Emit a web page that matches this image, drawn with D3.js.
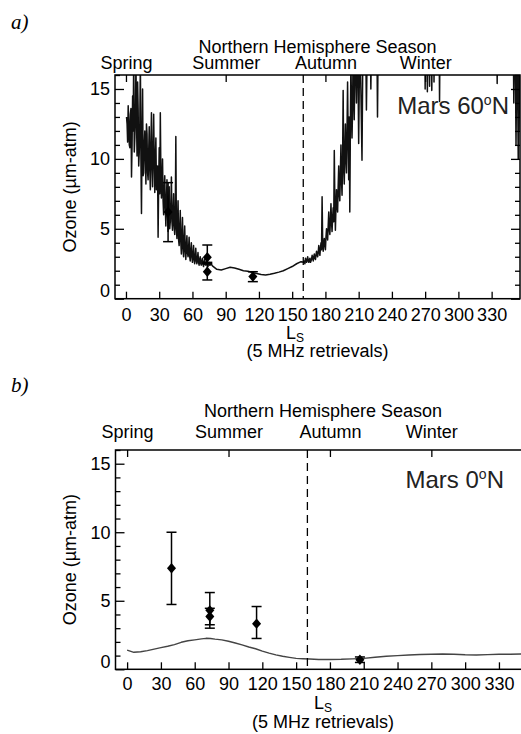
<!DOCTYPE html>
<html>
<head>
<meta charset="utf-8">
<script src="https://cdn.jsdelivr.net/npm/d3@7"></script>
<style>
  body { margin: 0; background: #fff; }
  svg { display: block; font-family: "Liberation Sans", Arial, sans-serif; }
</style>
</head>
<body>
<svg id="chart" width="521" height="734"></svg>
<script>
// season labels sit on the top axis
const seasons = ["Spring", "Summer", "Autumn", "Winter"];
const seasonLs = [0, 90, 180, 270];
const xTicks = [0, 30, 60, 90, 120, 150, 180, 210, 240, 270, 300, 330];
const yMajor = [0, 5, 10, 15];
const yMinor = [1, 2, 3, 4, 6, 7, 8, 9, 11, 12, 13, 14, 16];
const equinoxLs = 160;

// 60N model ozone [Ls, um-atm]; values > 16 run off the top of the frame
const ozone60N = [
  [1, 12.5], [2, 13.8], [3, 11.0], [4, 13.2], [5, 8.7], [6, 14.5], [7, 17.5], [8, 11.5],
  [9, 16.8], [10, 10.2], [11, 13.5], [12, 10.5], [13, 17.0], [14, 6.1], [15, 15.0], [16, 9.0],
  [17, 12.0], [18, 8.2], [19, 11.8], [20, 8.5], [21, 12.3], [22, 7.8], [23, 13.3], [24, 8.0],
  [25, 13.2], [26, 7.6], [27, 11.5], [28, 8.4], [29, 4.4], [30, 10.8], [31, 13.3], [32, 7.2],
  [33, 10.0], [34, 6.0], [35, 8.8], [36, 5.2], [37, 8.5], [38, 4.8], [39, 8.0], [40, 5.5],
  [41, 8.7], [42, 4.9], [43, 7.5], [44, 4.6], [45, 11.6], [46, 4.3], [47, 7.0], [48, 3.8],
  [49, 6.3], [50, 3.2], [51, 5.8], [52, 3.0], [53, 5.2], [54, 2.8], [55, 4.5], [56, 3.0],
  [57, 4.4], [58, 2.7], [59, 4.0], [60, 2.6], [61, 3.8], [62, 2.5], [63, 3.6], [64, 2.5],
  [65, 3.3], [66, 2.4], [67, 3.0], [68, 2.4], [69, 2.9], [70, 2.3], [71, 2.8], [72, 2.4],
  [73, 2.7], [74, 2.3], [75, 2.6], [76, 2.4], [77, 2.5], [78, 2.35],
  [82, 2.1], [86, 2.05], [90, 2.15], [94, 2.25], [98, 2.2], [102, 2.1], [106, 2.0], [110, 1.97],
  [114, 1.88], [118, 1.8], [122, 1.73], [126, 1.7], [130, 1.75], [134, 1.82], [138, 1.9],
  [142, 2.0], [146, 2.15], [150, 2.3], [154, 2.5], [158, 2.65],
  [161, 2.7], [162, 2.9], [163, 2.6], [164, 3.0], [165, 2.6], [166, 2.9], [167, 2.7], [168, 3.1],
  [169, 2.7], [170, 3.2], [171, 2.8], [172, 3.4], [173, 3.0], [174, 3.8], [175, 3.1], [176, 4.0],
  [177, 7.3], [178, 3.4], [179, 4.3], [180, 3.5], [181, 5.0], [182, 4.2], [183, 6.2], [184, 4.6],
  [185, 6.8], [186, 4.8], [187, 6.5], [188, 10.6], [189, 4.9], [190, 7.8], [191, 6.2], [192, 9.5],
  [193, 7.0], [194, 11.0], [195, 7.4], [196, 14.9], [197, 8.2], [198, 12.5], [199, 9.0], [200, 15.5],
  [201, 8.5], [202, 6.2], [203, 17.0], [204, 11.5], [205, 18.0], [206, 12.8], [207, 19.0], [208, 14.0],
  [209, 20.0], [210, 11.1], [211, 19.0], [212, 15.0], [213, 9.9], [214, 20.0], [215, 16.5], [216, 21.0],
  [217, 13.5], [218, 20.0], [219, 17.0], [220, 22.0], [221, 15.0], [222, 21.0], [223, 18.0], [224, 22.0],
  [225, 17.5], [226, 23.0], [227, 13.0], [228, 22.0], [229, 20.0], [230, 24.0],
  [240, 25.0], [250, 26.0], [260, 27.0], [269, 26.0], [270, 15.0], [271, 24.0], [272, 14.8],
  [273, 23.0], [274, 15.2], [275, 24.0], [276, 14.9], [277, 25.0], [278, 15.5], [279, 24.0],
  [282, 25.0], [283, 14.1], [284, 25.0], [300, 27.0], [320, 26.0], [334, 25.0], [335, 15.4],
  [336, 25.0], [348, 26.0], [349, 24.0], [350, 14.0], [351, 22.0], [352, 11.0], [353, 20.0],
  [354, 10.0], [355, 18.0], [356, 12.0]
];

// in-between samples of the noisy stretches (the dense black core)
const ozone60NHalf = [
  [0.5, 13.0], [1.5, 11.2], [2.5, 12.8], [3.5, 10.8], [4.5, 13.6], [5.5, 11.0], [6.5, 12.0], [7.5, 10.5],
  [8.5, 13.0], [9.5, 12.8], [10.5, 15.5], [11.5, 9.5], [12.5, 12.5], [13.5, 10.0], [14.5, 11.5], [15.5, 8.8],
  [16.5, 11.0], [17.5, 10.2], [18.5, 12.5], [19.5, 9.0], [20.5, 10.5], [21.5, 9.2], [22.5, 11.0], [23.5, 9.5],
  [24.5, 10.5], [25.5, 9.8], [26.5, 10.0], [27.5, 7.8], [28.5, 9.5], [29.5, 8.2], [30.5, 7.5], [31.5, 9.0],
  [32.5, 8.5], [33.5, 7.0], [34.5, 7.8], [35.5, 6.5], [36.5, 7.0], [37.5, 6.0], [38.5, 6.8], [39.5, 5.0],
  [40.5, 6.5], [41.5, 5.5], [42.5, 6.2], [43.5, 5.2], [44.5, 5.8], [45.5, 5.0], [46.5, 5.5], [47.5, 4.2],
  [48.5, 5.0], [49.5, 4.0], [50.5, 4.6], [51.5, 3.6], [52.5, 4.2], [53.5, 3.4], [54.5, 3.8], [55.5, 3.3],
  [56.5, 3.6], [57.5, 3.0], [58.5, 3.4], [59.5, 3.0], [60.5, 3.2], [61.5, 2.8], [62.5, 3.0], [63.5, 2.7],
  [64.5, 2.9], [65.5, 2.6], [66.5, 2.8], [67.5, 2.5], [68.5, 2.7], [69.5, 2.5], [70.5, 2.6], [71.5, 2.45],
  [72.5, 2.55], [73.5, 2.4], [74.5, 2.5], [75.5, 2.4], [76.5, 2.45], [77.5, 2.4],
  [160.5, 2.6], [161.5, 2.5], [162.5, 2.75], [163.5, 2.8], [164.5, 2.7], [165.5, 2.8], [166.5, 2.6],
  [167.5, 2.85], [168.5, 2.9], [169.5, 3.0], [170.5, 2.9], [171.5, 3.1], [172.5, 3.2], [173.5, 3.3],
  [174.5, 3.4], [175.5, 3.6], [176.5, 3.5], [177.5, 4.2], [178.5, 3.9], [179.5, 3.9], [180.5, 4.4],
  [181.5, 4.6], [182.5, 5.2], [183.5, 5.0], [184.5, 5.6], [185.5, 5.5], [186.5, 5.8], [187.5, 5.5],
  [188.5, 7.0], [189.5, 6.5], [190.5, 6.8], [191.5, 8.0], [192.5, 7.5], [193.5, 9.0], [194.5, 8.5],
  [195.5, 9.8], [196.5, 9.5], [197.5, 10.5], [198.5, 10.0], [199.5, 12.0], [200.5, 11.5], [201.5, 13.0],
  [202.5, 12.0], [203.5, 14.0], [204.5, 13.5]
];

// 0N model ozone [Ls, um-atm]
const ozone0N = [
  [0, 1.4], [6, 1.24], [12, 1.28], [18, 1.36], [24, 1.47], [30, 1.58], [36, 1.68], [42, 1.8],
  [48, 1.97], [54, 2.08], [60, 2.15], [66, 2.22], [70, 2.26], [74, 2.25], [78, 2.2], [84, 2.15],
  [90, 2.05], [96, 1.92], [102, 1.78], [108, 1.63], [114, 1.5], [120, 1.33], [126, 1.18], [132, 1.05],
  [138, 0.95], [144, 0.87], [150, 0.8], [156, 0.77], [162, 0.75], [170, 0.72], [180, 0.72], [190, 0.73],
  [200, 0.76], [210, 0.8], [220, 0.88], [230, 0.95], [240, 1.0], [250, 1.04], [260, 1.08], [270, 1.1],
  [280, 1.12], [290, 1.1], [300, 1.06], [310, 1.04], [320, 1.07], [330, 1.1], [340, 1.1], [350, 1.12],
  [358, 1.12]
];

// 5 MHz retrievals: Ls, value, low, high
const obs60N = [
  [38, 6.2, 4.08, 8.3],
  [73.4, 2.96, 2.5, 3.84],
  [73.4, 1.93, 1.34, 2.6],
  [114.5, 1.58, 1.22, 1.93]
];
const obs0N = [
  [39.4, 7.37, 4.73, 10.0],
  [73.4, 4.3, 3.0, 5.6],
  [73.4, 3.85, 3.25, 4.45],
  [114.9, 3.33, 2.25, 4.58],
  [206.6, 0.7, 0.5, 0.9]
];

var svg = d3.select("#chart");

function drawPanel(p) {
  var x = d3.scaleLinear().domain(p.xDomain).range([p.left, p.right]);
  var y = d3.scaleLinear().domain([0, 16]).range([p.bottom, p.top]);
  var g = svg.append("g");

  g.append("clipPath").attr("id", "clip-" + p.id)
    .append("rect")
    .attr("x", p.left).attr("y", p.top)
    .attr("width", p.right - p.left).attr("height", p.bottom - p.top);

  // model line
  var line = d3.line().x(d => x(d[0])).y(d => y(d[1]));
  g.append("path")
    .datum(d3.sort(p.model, d => d[0]))
    .attr("clip-path", "url(#clip-" + p.id + ")")
    .attr("d", line)
    .attr("fill", "none")
    .attr("stroke", p.lineColor)
    .attr("stroke-width", p.lineWidth)
    .attr("stroke-linejoin", "round");

  // equinox marker
  g.append("line")
    .attr("x1", x(equinoxLs)).attr("x2", x(equinoxLs))
    .attr("y1", p.top).attr("y2", p.bottom)
    .attr("stroke", "#000").attr("stroke-width", 1.3)
    .attr("stroke-dasharray", "8,5");

  // error bars + diamonds
  var obs = g.append("g").attr("stroke", "#000").attr("stroke-width", 1.5);
  p.obs.forEach(function(d) {
    var cx = x(d[0]);
    obs.append("line").attr("x1", cx).attr("x2", cx).attr("y1", y(d[2])).attr("y2", y(d[3]));
    obs.append("line").attr("x1", cx - 5).attr("x2", cx + 5).attr("y1", y(d[2])).attr("y2", y(d[2]));
    obs.append("line").attr("x1", cx - 5).attr("x2", cx + 5).attr("y1", y(d[3])).attr("y2", y(d[3]));
  });
  g.selectAll(".pt")
    .data(p.obs)
    .enter()
    .append("path")
    .attr("d", d3.symbol(d3.symbolDiamond2, 52))
    .attr("transform", d => `translate(${x(d[0])},${y(d[1])}) scale(1,1.15)`)
    .attr("fill", "#000");

  // axes
  g.append("g")
    .attr("transform", `translate(0,${p.bottom})`)
    .call(d3.axisBottom(x).tickValues(xTicks).tickSize(-7).tickPadding(p.xPad));
  g.append("g")
    .attr("transform", `translate(0,${p.top})`)
    .call(d3.axisTop(x).tickValues(seasonLs).tickSize(-7).tickPadding(p.sPad)
      .tickFormat((d, i) => seasons[i]));
  var left = g.append("g")
    .attr("transform", `translate(${p.left},0)`)
    .call(d3.axisLeft(y).tickValues(yMajor).tickSize(-9).tickPadding(5));
  left.selectAll("text").filter(d => d === 0).attr("dy", "-0.1em");
  g.append("g")
    .attr("transform", `translate(${p.left},0)`)
    .call(d3.axisLeft(y).tickValues(yMinor).tickSize(-5).tickFormat(""));
  if (p.rightAxis) {
    g.append("g")
      .attr("transform", `translate(${p.right},0)`)
      .call(d3.axisRight(y).tickValues(yMajor).tickSize(-9).tickFormat(""));
    g.append("g")
      .attr("transform", `translate(${p.right},0)`)
      .call(d3.axisRight(y).tickValues(yMinor).tickSize(-5).tickFormat(""));
  }
  g.selectAll(".domain").remove();
  g.selectAll(".tick line").attr("stroke", "#000").attr("stroke-width", 1.3);
  g.selectAll(".tick text").attr("fill", "#000").style("font-size", "18px");

  g.append("rect")
    .attr("x", p.left).attr("y", p.top)
    .attr("width", p.right - p.left).attr("height", p.bottom - p.top)
    .attr("fill", "none").attr("stroke", "#000").attr("stroke-width", 1.5);

  var mid = (p.left + p.right) / 2;
  g.append("text")
    .attr("x", mid).attr("y", p.titleY)
    .attr("text-anchor", "middle").style("font-size", "18px")
    .text("Northern Hemisphere Season");

  g.append("text")
    .attr("transform", `translate(76,${(p.top + p.bottom) / 2}) rotate(-90)`)
    .attr("text-anchor", "middle").style("font-size", "18px")
    .text("Ozone (µm-atm)");

  var ls = g.append("text")
    .attr("x", p.lsX).attr("y", p.bottom + 40)
    .attr("text-anchor", "middle").style("font-size", "18px");
  ls.append("tspan").text("L");
  ls.append("tspan").attr("dy", 3).style("font-size", "12px").text("S");
  g.append("text")
    .attr("x", mid).attr("y", p.bottom + 58.5)
    .attr("text-anchor", "middle").style("font-size", "18px")
    .text("(5 MHz retrievals)");

  var nm = g.append("text")
    .attr("x", p.nameX).attr("y", p.nameY)
    .attr("text-anchor", "end").style("font-size", "24px").attr("fill", "#222");
  nm.append("tspan").text(p.name);
  nm.append("tspan").attr("dy", -9).style("font-size", "14px").text("o");
  nm.append("tspan").attr("dy", 9).text("N");

  svg.append("text")
    .attr("x", 11).attr("y", p.tagY)
    .style("font-family", "'Liberation Serif', 'Times New Roman', serif")
    .style("font-style", "italic").style("font-size", "21px")
    .text(p.tag);
}

drawPanel({
  id: "a", tag: "a)", tagY: 29,
  left: 115, right: 520, top: 75, bottom: 298.7, xDomain: [-9.9, 355.6],
  titleY: 52.5, sPad: 6.5, xPad: 10, lsX: 295,
  name: "Mars 60", nameX: 509, nameY: 114,
  model: ozone60N.concat(ozone60NHalf), lineColor: "#111", lineWidth: 1.5, obs: obs60N, rightAxis: true
});

drawPanel({
  id: "b", tag: "b)", tagY: 392,
  left: 115.5, right: 530.5, top: 450, bottom: 669.3, xDomain: [-10.3, 358],
  titleY: 417, sPad: 12, xPad: 8, lsX: 323,
  name: "Mars 0", nameX: 504, nameY: 488,
  model: ozone0N, lineColor: "#444", lineWidth: 1.4, obs: obs0N, rightAxis: false
});
</script>
</body>
</html>
